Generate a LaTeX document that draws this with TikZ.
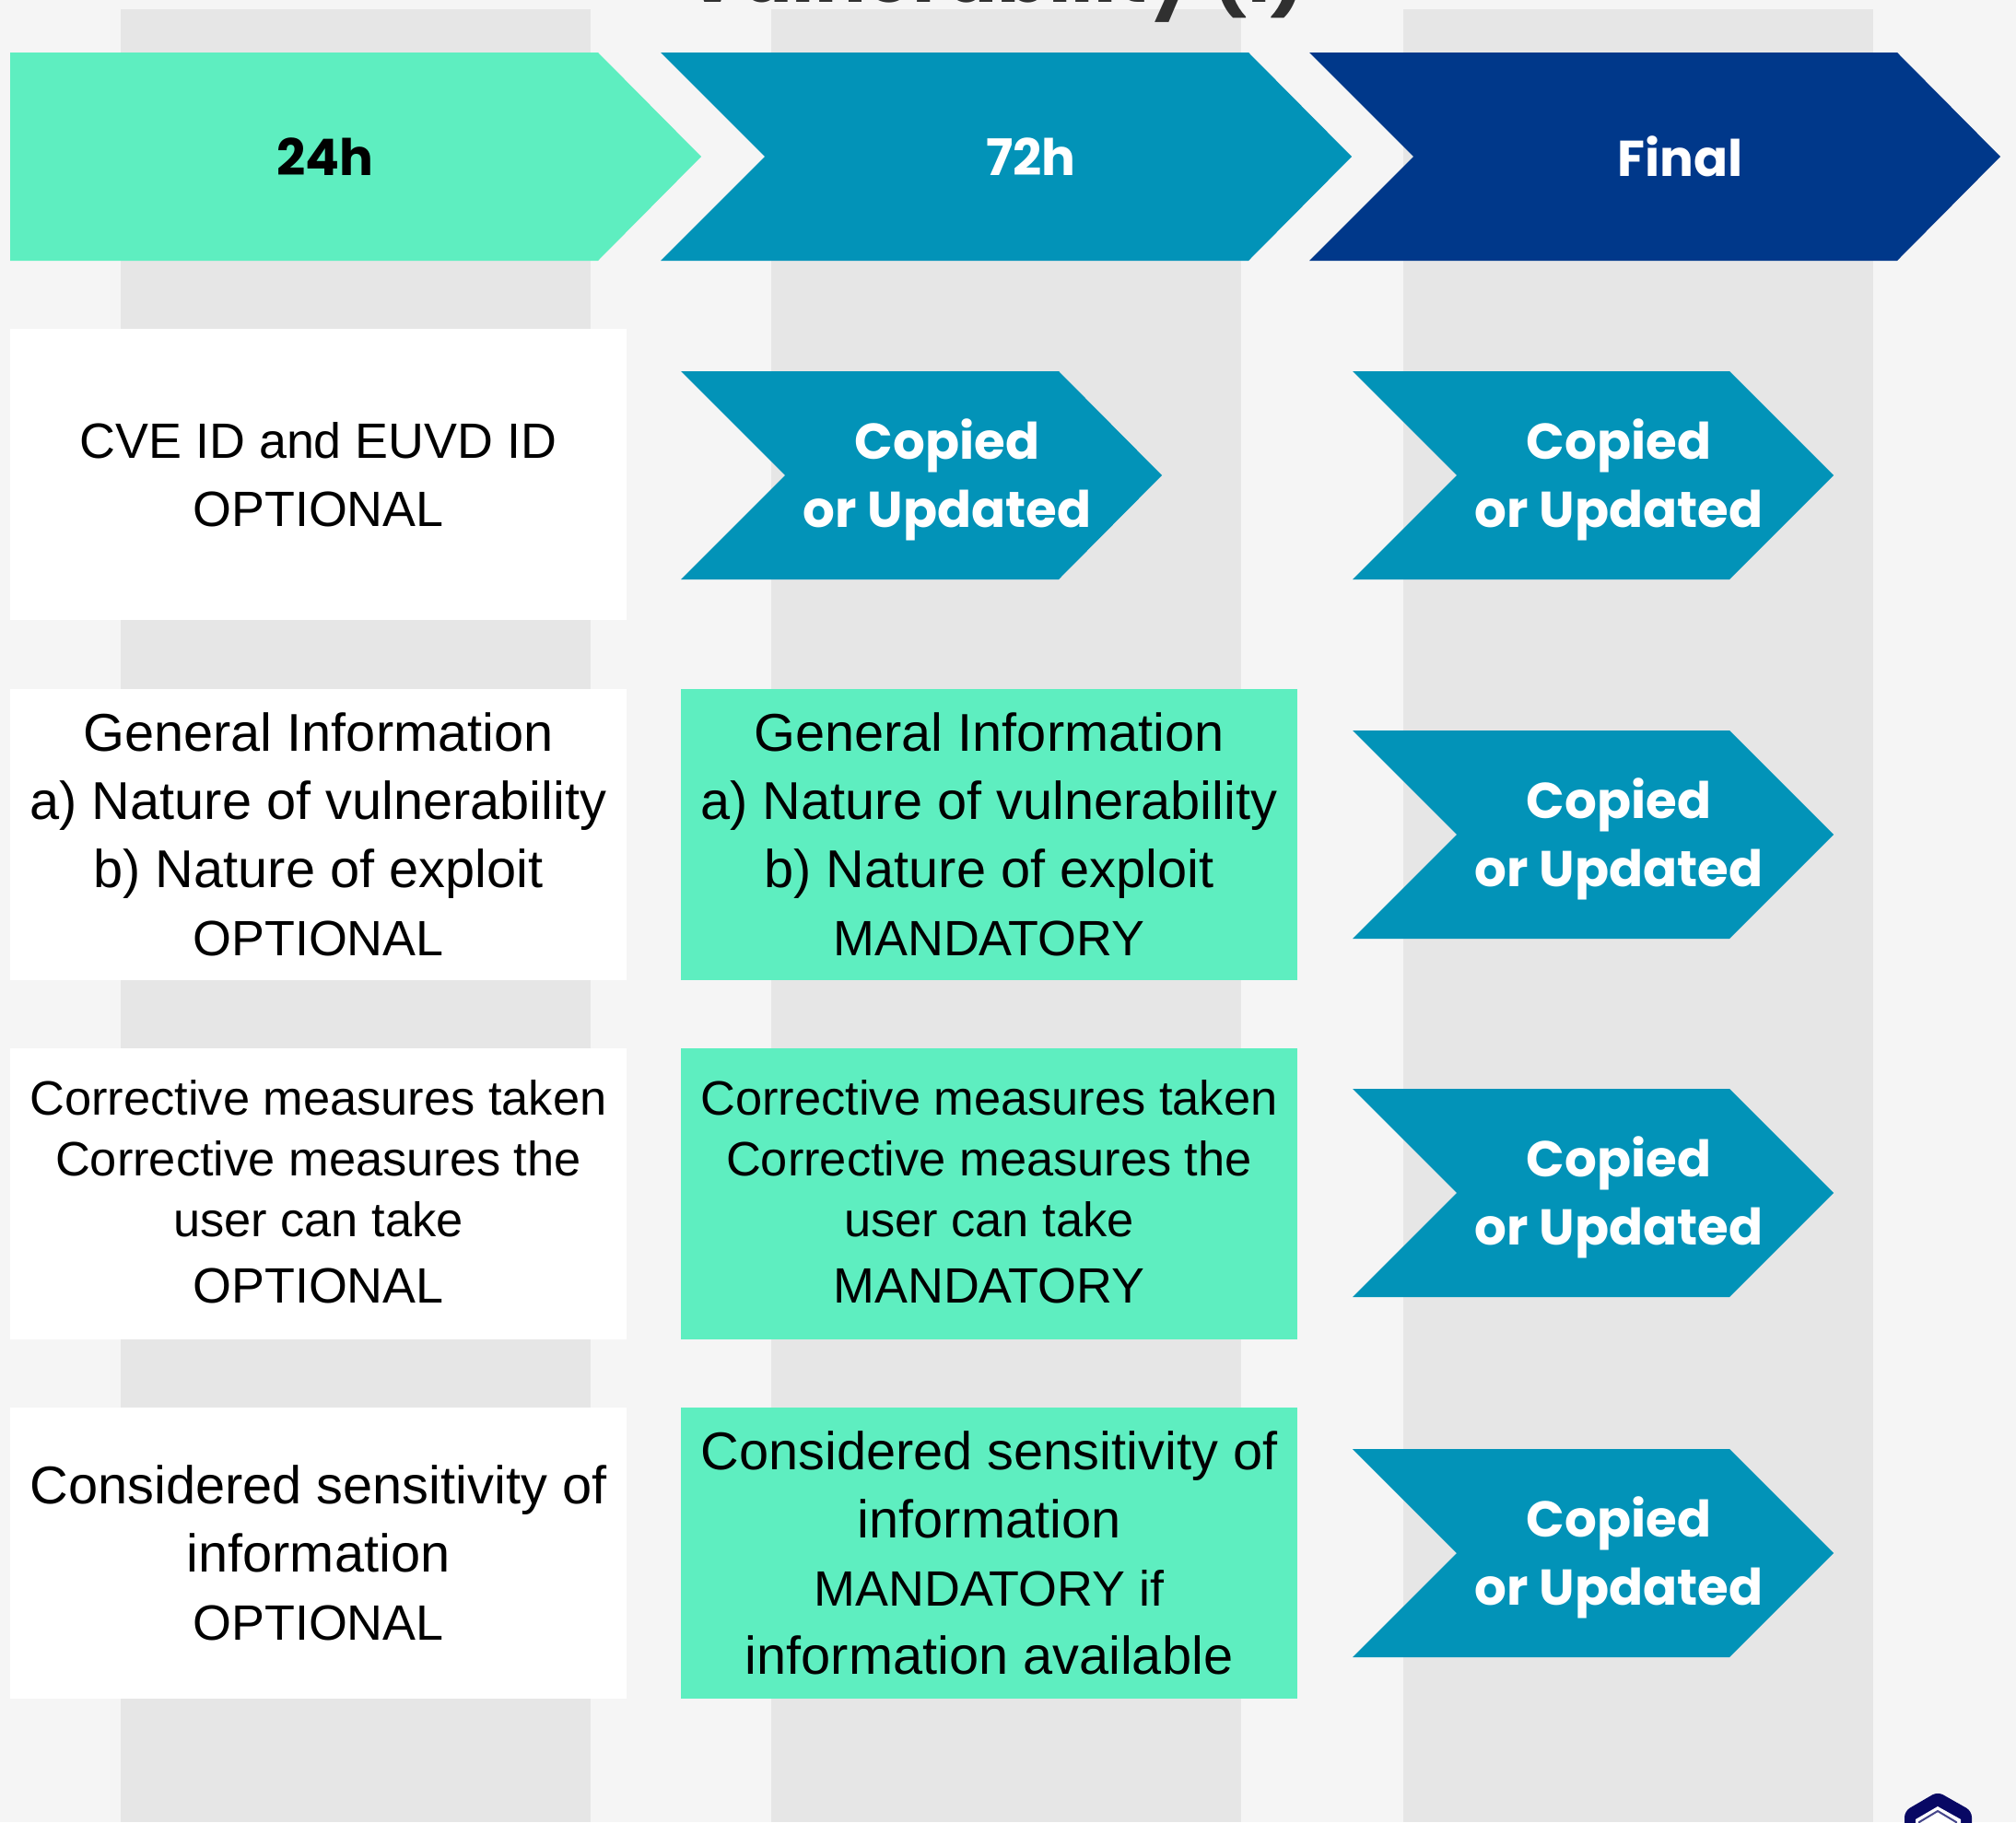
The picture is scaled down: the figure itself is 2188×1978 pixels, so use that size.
\documentclass[tikz,border=0pt]{standalone}
\usepackage{fontspec}
\setmainfont{Liberation Sans}
\newfontfamily\headfont{Poppins}
\definecolor{pagegrey}{RGB}{245,245,245}
\definecolor{bandgrey}{RGB}{230,230,230}
\definecolor{mintgreen}{RGB}{94,238,192}
\definecolor{tealblue}{RGB}{2,147,184}
\definecolor{navyblue}{RGB}{0,56,138}
\definecolor{logonavy}{RGB}{8,8,100}
\definecolor{titlegrey}{RGB}{48,48,48}
\newcommand{\capsline}[1]{{\fontsize{40.4}{55.5}\selectfont #1}}
\newcommand{\lastcaps}[1]{{\fontsize{40.4}{55.5}\selectfont #1\rule[-4pt]{0pt}{1pt}}}
\tikzset{
  bodybox/.style={minimum width=502pt,minimum height=237pt,inner sep=0pt,align=center,font=\fontsize{43.3}{55.5}\selectfont,text=black},
  smallbox/.style={bodybox,font=\fontsize{39.3}{49.5}\selectfont},
  headtext/.style={font=\headfont\bfseries\fontsize{41}{50}\selectfont,text=white},
  copytext/.style={font=\headfont\bfseries\fontsize{41}{55.5}\selectfont,text=white,align=center},
}
\begin{document}
\begin{tikzpicture}[x=0.75pt,y=0.75pt,yscale=-1]
\path[use as bounding box] (0,0) rectangle (2188,1978);
\clip (0,0) rectangle (2188,1978);
\fill[pagegrey] (0,0) rectangle (2188,1978);

%Shape: grey bands
\fill[bandgrey] (131,10) rectangle (641,1978);
\fill[bandgrey] (837,10) rectangle (1347,1978);
\fill[bandgrey] (1523,10) rectangle (2033,1978);

% Text Node
\node[font=\headfont\bfseries\fontsize{62}{70}\selectfont,text=titlegrey,anchor=base] (titleText) at (1081,2) {Vulnerability (I)};

%Shape: header arrows
\fill[mintgreen] (11,57) -- (649,57) -- (761,170) -- (649,283) -- (11,283) -- cycle;
\fill[tealblue] (717,57) -- (1355,57) -- (1467,170) -- (1355,283) -- (717,283) -- (830,170) -- cycle;
\fill[navyblue] (1421,57) -- (2059,57) -- (2171,170) -- (2059,283) -- (1421,283) -- (1534,170) -- cycle;
% Text Node
\node[headtext,text=black] (headA) at (353,170) {24h};
% Text Node
\node[headtext] (headB) at (1119,170) {72h};
% Text Node
\node[headtext] (headC) at (1824,170) {Final};

%Shape: first column
\node[bodybox,fill=white] (cveA) at (345.5,515) {\capsline{CVE ID and EUVD ID}\\\capsline{OPTIONAL}};
\node[bodybox,fill=white] (infoA) at (345.5,906) {General Information\\a) Nature of vulnerability\\b) Nature of exploit\\\capsline{OPTIONAL}};
\node[smallbox,fill=white] (measA) at (345.5,1296) {Corrective measures taken\\Corrective measures the\\user can take\\[4pt]\lastcaps{OPTIONAL}};
\node[bodybox,fill=white] (sensA) at (345.5,1686) {Considered sensitivity of\\information\\\capsline{OPTIONAL}};

%Shape: second column
\fill[tealblue] (739,403) -- (1149,403) -- (1261,516) -- (1149,629) -- (739,629) -- (852,516) -- cycle;
\node[copytext] (copyB) at (1028,521) {Copied\\or Updated};
\node[bodybox,fill=mintgreen] (infoB) at (1073.5,906) {General Information\\a) Nature of vulnerability\\b) Nature of exploit\\\capsline{MANDATORY}};
\node[smallbox,fill=mintgreen] (measB) at (1073.5,1296) {Corrective measures taken\\Corrective measures the\\user can take\\[4pt]\lastcaps{MANDATORY}};
\node[bodybox,fill=mintgreen] (sensB) at (1073.5,1686) {Considered sensitivity of\\information\\\capsline{MANDATORY if}\\information available};

%Shape: third column
\fill[tealblue] (1468,403) -- (1877,403) -- (1990,516) -- (1877,629) -- (1468,629) -- (1581,516) -- cycle;
\node[copytext] (copyC) at (1757,521) {Copied\\or Updated};
\fill[tealblue] (1468,793) -- (1877,793) -- (1990,906) -- (1877,1019) -- (1468,1019) -- (1581,906) -- cycle;
\node[copytext] (copyD) at (1757,911) {Copied\\or Updated};
\fill[tealblue] (1468,1182) -- (1877,1182) -- (1990,1295) -- (1877,1408) -- (1468,1408) -- (1581,1295) -- cycle;
\node[copytext] (copyE) at (1757,1300) {Copied\\or Updated};
\fill[tealblue] (1468,1573) -- (1877,1573) -- (1990,1686) -- (1877,1799) -- (1468,1799) -- (1581,1686) -- cycle;
\node[copytext] (copyF) at (1757,1691) {Copied\\or Updated};

%Shape: logo
\fill[logonavy,rounded corners=5pt] (2103,1945) -- (2140,1966) -- (2140,2030) -- (2067,2030) -- (2067,1966) -- cycle;
\fill[white] (2103,1961) -- (2128,1975) -- (2128,2030) -- (2079,2030) -- (2079,1975) -- cycle;
\draw[logonavy!75,line width=1.5pt] (2103,1966) -- (2123,1978) -- (2123,2030) -- (2083,2030) -- (2083,1978) -- cycle;
\end{tikzpicture}
\end{document}
